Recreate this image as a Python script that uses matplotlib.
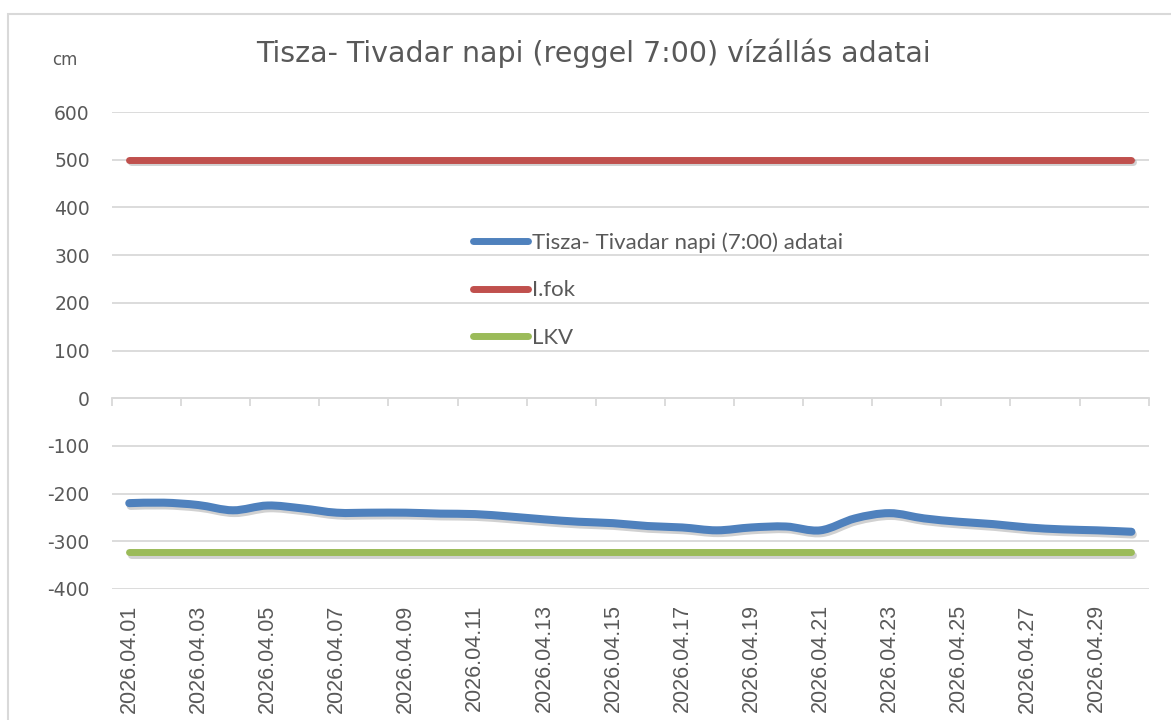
import numpy as np
import matplotlib
matplotlib.use("Agg")
import matplotlib.pyplot as plt
from matplotlib.path import Path
from matplotlib.patches import PathPatch, Rectangle
from matplotlib.lines import Line2D
import matplotlib.patheffects as pe

# ---------------- data ----------------
dates = ["2026.04.01", "2026.04.02", "2026.04.03", "2026.04.04", "2026.04.05",
         "2026.04.06", "2026.04.07", "2026.04.08", "2026.04.09", "2026.04.10",
         "2026.04.11", "2026.04.12", "2026.04.13", "2026.04.14", "2026.04.15",
         "2026.04.16", "2026.04.17", "2026.04.18", "2026.04.19", "2026.04.20",
         "2026.04.21", "2026.04.22", "2026.04.23", "2026.04.24", "2026.04.25",
         "2026.04.26", "2026.04.27", "2026.04.28", "2026.04.29", "2026.04.30"]
water_level = [-220, -219, -224, -235, -225, -231, -240, -240, -240, -242,
               -243, -248, -254, -259, -262, -268, -271, -277, -271, -269,
               -277, -252, -241, -252, -259, -264, -271, -275, -277, -280]
i_fok = [500] * len(dates)
lkv = [-322] * len(dates)
y_ticks = [-400, -300, -200, -100, 0, 100, 200, 300, 400, 500, 600]

title = "Tisza- Tivadar napi (reggel 7:00) vízállás adatai"
series_names = ["Tisza- Tivadar napi (7:00) adatai", "I.fok", "LKV"]
colors = ["#4f81bd", "#c0504d", "#9bbb59"]
text_color = "#595959"
grid_color = "#d9d9d9"

W, H = 1171, 720
fig = plt.figure(figsize=(W / 100, H / 100), dpi=100)
ax = fig.add_axes([112 / W, 1 - 589 / H, (1148.7 - 112) / W, (589 - 112) / H])

n = len(dates)
x = np.arange(n)

shadow = [pe.SimpleLineShadow(offset=(1.0, -2.0), shadow_color="k", alpha=0.18),
          pe.Normal()]

# smooth (Excel-like) curve for the water level through the data points
y = np.array(water_level, dtype=float)
verts = [(x[0], y[0])]
codes = [Path.MOVETO]
for i in range(n - 1):
    xm1, ym1 = (x[i - 1], y[i - 1]) if i > 0 else (x[i], y[i])
    xp2, yp2 = (x[i + 2], y[i + 2]) if i + 2 < n else (x[i + 1], y[i + 1])
    c1 = (x[i] + (x[i + 1] - xm1) / 6, y[i] + (y[i + 1] - ym1) / 6)
    c2 = (x[i + 1] - (xp2 - x[i]) / 6, y[i + 1] - (yp2 - y[i]) / 6)
    verts += [c1, c2, (x[i + 1], y[i + 1])]
    codes += [Path.CURVE4, Path.CURVE4, Path.CURVE4]
patch = PathPatch(Path(verts, codes), fill=False, edgecolor=colors[0], lw=5.8,
                  capstyle="round", joinstyle="round", zorder=4)
patch.set_path_effects(shadow)
ax.add_patch(patch)

ax.plot(x, i_fok, color=colors[1], lw=5.0, solid_capstyle="round", zorder=3,
        path_effects=shadow)
ax.plot(x, lkv, color=colors[2], lw=5.0, solid_capstyle="round", zorder=3,
        path_effects=shadow)

ax.set_xlim(-0.5, n - 0.5)
ax.set_ylim(-400, 600)
ax.set_yticks(y_ticks)
ax.set_yticklabels([str(v) for v in y_ticks])
ax.yaxis.grid(True, color=grid_color, lw=1.3)
ax.set_axisbelow(True)
for s in ax.spines.values():
    s.set_visible(False)
ax.tick_params(axis="y", length=0, pad=16, labelsize=13.5, labelcolor=text_color)

ax.set_xticks(x[::2])
ax.set_xticklabels(dates[::2], rotation=90, family="Liberation Sans",
                   fontsize=15.5, color=text_color, va="top")
ax.tick_params(axis="x", length=0, pad=11)

# horizontal axis crossing at 0 with tick marks between categories
sec = ax.secondary_xaxis(0.4)
sec.set_xticks(np.arange(-0.5, n, 2))
sec.tick_params(axis="x", length=6, width=1.3, color=grid_color, labelbottom=False,
                direction="out")
sec.spines["bottom"].set_color(grid_color)
sec.spines["bottom"].set_linewidth(1.3)

# legend
handles = [Line2D([], [], color=c, lw=5.0, solid_capstyle="round") for c in colors]
fig.legend(handles, series_names, loc="upper left",
           bbox_to_anchor=(462 / W, 1 - 221 / H), bbox_transform=fig.transFigure,
           frameon=False, borderpad=0, handlelength=2.45, handletextpad=0.2,
           labelspacing=1.25, prop={"family": "Lato", "size": 16},
           labelcolor=text_color)

fig.text(593 / W, 1 - 53 / H, title, ha="center", va="center", fontsize=20.5,
         color=text_color)
fig.text(52 / W, 1 - 60 / H, "cm", ha="left", va="center", fontsize=12,
         color=text_color)

fig.patches.append(Rectangle((8 / W, -0.1), 1.2, 1 - 14 / H + 0.1,
                             transform=fig.transFigure, fill=False,
                             edgecolor=grid_color, lw=1.5))

fig.savefig("out.png", dpi=100, facecolor="white")
